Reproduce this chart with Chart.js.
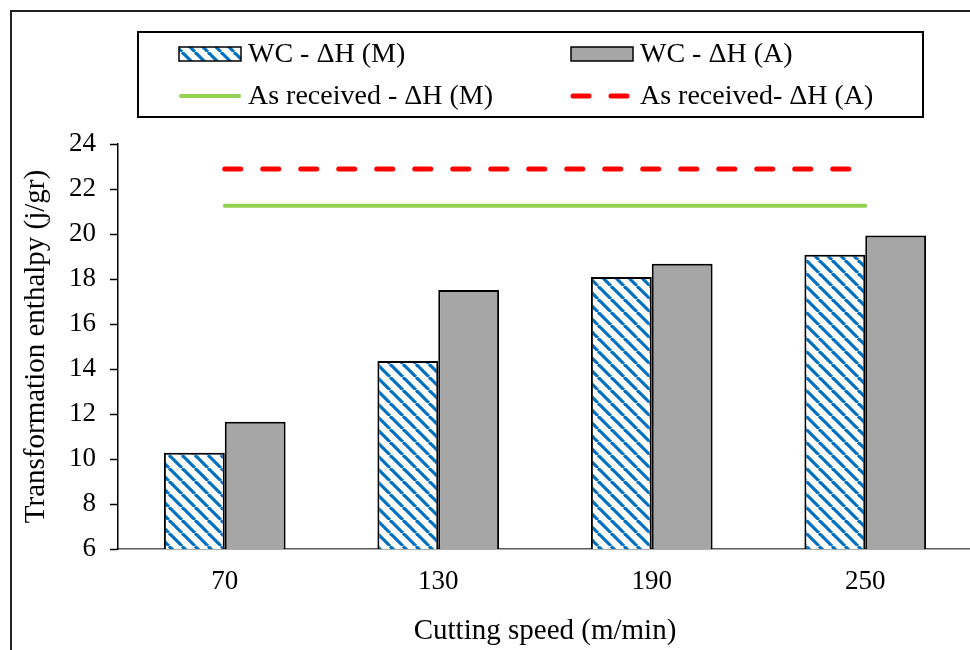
<!DOCTYPE html>
<html lang="en">
<head>
  <meta charset="UTF-8">
  <title>Transformation enthalpy vs cutting speed</title>
  <script src="https://cdn.jsdelivr.net/npm/chart.js"></script>
  <style>
    body { margin: 0; background: #fff; overflow: hidden; }
    #frame { position: absolute; left: 10px; top: 10px; width: 980px; height: 700px;
             border-left: 2px solid #222; border-top: 2px solid #222; }
    #myChart { position: absolute; left: 0; top: 0; }
  </style>
</head>
<body>
  <div id="frame"></div>
  <canvas id="myChart" width="980" height="650"></canvas>

  <script>
    // data
    const speeds = ['70', '130', '190', '250'];
    const wcM = [10.28, 14.36, 18.09, 19.08];
    const wcA = [11.66, 17.51, 18.68, 19.93];
    const asRecM = [21.26, 21.26, 21.26, 21.26];
    const asRecA = [22.89, 22.89, 22.89, 22.89];
    const yMin = 6, yMax = 24, yStep = 2;

    const serif = '"Liberation Serif", "Times New Roman", serif';

    var ctx = document.getElementById('myChart').getContext('2d');

    // blue diagonal hatch used for the WC - dH (M) bars
    function makeHatch() {
      const s = 13;
      const c = document.createElement('canvas');
      c.width = s; c.height = s;
      const g = c.getContext('2d');
      g.fillStyle = '#fff';
      g.fillRect(0, 0, s, s);
      g.strokeStyle = '#0070C0';
      g.lineWidth = 3.2;
      for (const x0 of [-s, 0, s]) {
        g.beginPath();
        g.moveTo(x0, 0);
        g.lineTo(x0 + s, s);
        g.stroke();
      }
      return ctx.createPattern(c, 'repeat');
    }
    const hatch = makeHatch();

    // legend drawn as a boxed 2x2 grid like the original
    const boxLegend = {
      id: 'boxLegend',
      afterDraw(chart) {
        const c = chart.ctx;
        c.save();
        c.strokeStyle = '#000';
        c.lineWidth = 2;
        c.strokeRect(138, 32, 785, 85);

        const rows = [54, 96];
        const cols = [179, 571];
        const ds = chart.data.datasets;
        c.font = '28px ' + serif;
        c.fillStyle = '#000';
        c.textBaseline = 'middle';
        c.textAlign = 'left';

        // bar swatches
        [[0, cols[0]], [1, cols[1]]].forEach(([i, x]) => {
          c.fillStyle = ds[i].backgroundColor;
          c.fillRect(x, rows[0] - 7, 62, 14);
          c.strokeStyle = '#000';
          c.lineWidth = 1.5;
          c.strokeRect(x, rows[0] - 7, 62, 14);
          c.fillStyle = '#000';
          c.fillText(ds[i].label, x + 69, rows[0] + 1);
        });

        // line swatches
        [[2, cols[0]], [3, cols[1]]].forEach(([i, x]) => {
          c.beginPath();
          c.strokeStyle = ds[i].borderColor;
          c.lineWidth = ds[i].borderWidth;
          c.lineCap = 'round';
          c.setLineDash(ds[i].borderDash || []);
          c.moveTo(x + 2, rows[1]);
          c.lineTo(x + 60, rows[1]);
          c.stroke();
          c.setLineDash([]);
          c.fillStyle = '#000';
          c.fillText(ds[i].label, x + 69, rows[1] + 1);
        });
        c.restore();
      }
    };

    var myChart = new Chart(ctx, {
      type: 'bar',
      data: {
        labels: speeds,
        datasets: [
          {
            label: 'WC - \u0394H (M)',
            data: wcM,
            backgroundColor: hatch,
            borderColor: '#000',
            borderWidth: 2,
            categoryPercentage: 0.57,
            barPercentage: 1.0,
            order: 2
          },
          {
            label: 'WC - \u0394H (A)',
            data: wcA,
            backgroundColor: '#A6A6A6',
            borderColor: '#000',
            borderWidth: 2,
            categoryPercentage: 0.57,
            barPercentage: 1.0,
            order: 2
          },
          {
            type: 'line',
            label: 'As received - \u0394H (M)',
            data: asRecM,
            borderColor: '#92D050',
            borderWidth: 4,
            borderCapStyle: 'round',
            pointRadius: 0,
            fill: false,
            order: 1
          },
          {
            type: 'line',
            label: 'As received- \u0394H (A)',
            data: asRecA,
            borderColor: '#FF0000',
            borderWidth: 5,
            borderDash: [16, 22],
            borderCapStyle: 'round',
            pointRadius: 0,
            fill: false,
            order: 1
          }
        ]
      },
      options: {
        responsive: false,
        animation: false,
        layout: { padding: { top: 144, right: 8, left: 0, bottom: 0 } },
        plugins: {
          legend: { display: false },
          tooltip: { enabled: false }
        },
        scales: {
          x: {
            grid: { display: false, drawTicks: false },
            border: { display: true, color: '#595959', width: 1.5 },
            ticks: { color: '#000', padding: 17, font: { family: serif, size: 27 } },
            title: {
              display: true,
              text: 'Cutting speed (m/min)',
              color: '#000',
              font: { family: serif, size: 29 },
              padding: { top: 0, bottom: 1 }
            },
            afterFit(scale) { scale.height = 101; }
          },
          y: {
            min: yMin,
            max: yMax,
            ticks: { stepSize: yStep, color: '#000', padding: 14, font: { family: serif, size: 27 } },
            grid: { drawOnChartArea: false, drawTicks: true, tickLength: 8, tickColor: '#000', tickWidth: 1.5 },
            border: { display: true, color: '#000', width: 1.5 },
            title: {
              display: true,
              text: 'Transformation enthalpy (j/gr)',
              color: '#000',
              font: { family: serif, size: 29 },
              padding: { top: 19, bottom: 0 }
            },
            afterFit(scale) { scale.width = 118; }
          }
        }
      },
      plugins: [boxLegend]
    });
  </script>
</body>
</html>
